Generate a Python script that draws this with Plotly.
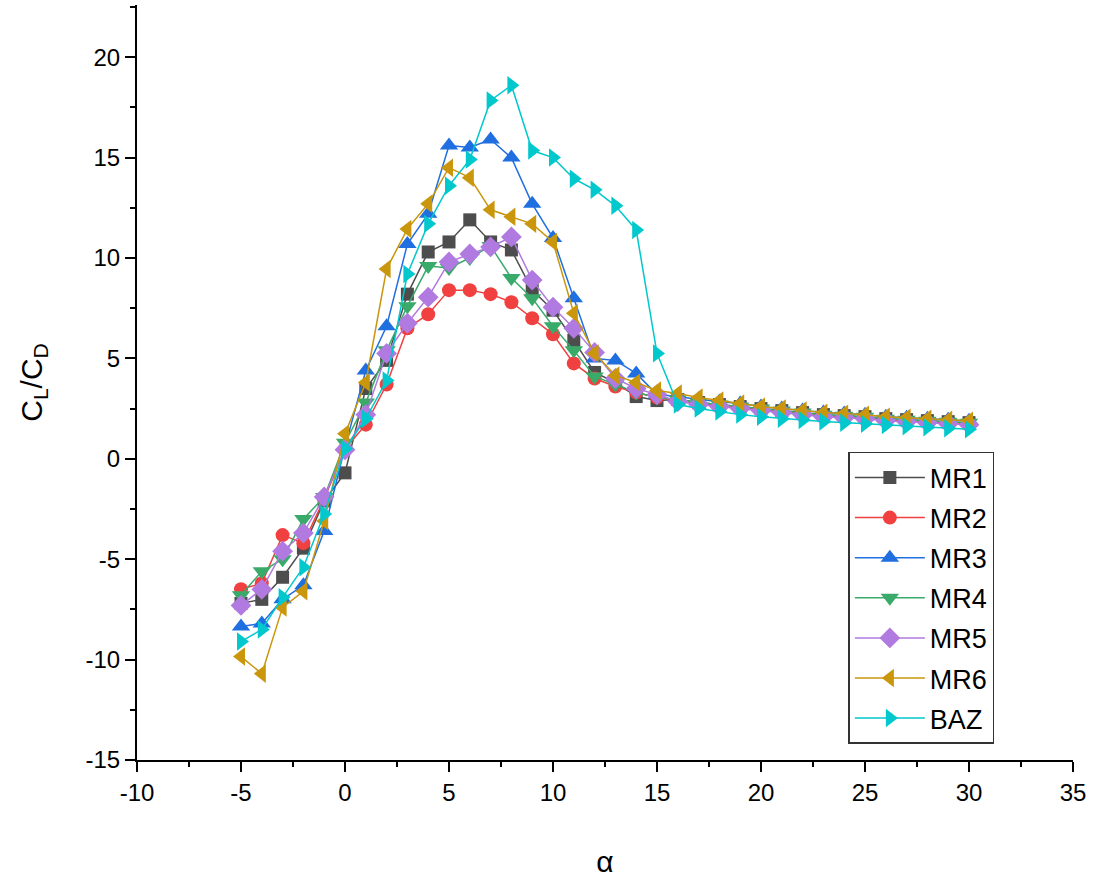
import plotly.graph_objects as go

alpha = list(range(-5, 31))

MR1 = [-7.2, -7.0, -5.9, -4.45, -2.1, -0.7, 3.5, 4.9, 8.2, 10.3, 10.8, 11.9, 10.8, 10.4, 8.4, 7.4, 5.9, 4.3, 3.8, 3.1, 2.9,
       2.95, 2.8, 2.7, 2.6, 2.5, 2.4, 2.3, 2.2, 2.15, 2.1, 2.0, 1.95, 1.9, 1.85, 1.8]
MR2 = [-6.5, -6.2, -3.8, -4.2, -2.0, 0.5, 1.7, 3.7, 6.5, 7.2, 8.4, 8.4, 8.2, 7.8, 7.0, 6.2, 4.75, 4.0, 3.6, 3.3, 3.05,
       2.9, 2.75, 2.65, 2.55, 2.45, 2.35, 2.25, 2.15, 2.1, 2.05, 1.95, 1.9, 1.85, 1.8, 1.75]
MR3 = [-8.35, -8.2, -7.0, -6.3, -3.6, 0.6, 4.4, 6.6, 10.7, 12.2, 15.6, 15.5, 15.9, 15.0, 12.7, 11.0, 8.0, 5.0, 4.9, 4.25, 3.2,
       3.1, 2.95, 2.85, 2.75, 2.6, 2.5, 2.4, 2.3, 2.25, 2.2, 2.1, 2.05, 2.0, 1.95, 1.9]
MR4 = [-6.8, -5.6, -5.0, -3.0, -1.9, 0.8, 2.8, 5.4, 7.6, 9.6, 9.5, 10.0, 10.6, 9.0, 8.0, 6.6, 5.4, 4.1, 3.7, 3.3, 3.05,
       2.95, 2.8, 2.7, 2.6, 2.5, 2.4, 2.3, 2.2, 2.15, 2.1, 2.0, 1.95, 1.9, 1.85, 1.8]
MR5 = [-7.3, -6.5, -4.6, -3.7, -1.9, 0.45, 2.2, 5.25, 6.75, 8.05, 9.8, 10.2, 10.55, 11.05, 8.9, 7.55, 6.5, 5.3, 4.0, 3.5, 3.2,
       2.85, 2.7, 2.6, 2.5, 2.4, 2.3, 2.2, 2.1, 2.05, 2.0, 1.9, 1.85, 1.8, 1.75, 1.7]
MR6 = [-9.85, -10.7, -7.4, -6.6, -3.1, 1.25, 3.8, 9.45, 11.45, 12.7, 14.5, 14.0, 12.4, 12.05, 11.7, 10.8, 7.25, 5.25, 4.15, 3.8, 3.4,
       3.25, 3.05, 2.9, 2.75, 2.6, 2.5, 2.4, 2.3, 2.25, 2.2, 2.1, 2.05, 2.0, 1.95, 1.9]
BAZ = [-9.1, -8.5, -6.9, -5.4, -2.75, 0.5, 2.0, 3.9, 9.2, 11.7, 13.6, 14.9, 17.85, 18.6, 15.35, 15.0, 13.95, 13.4, 12.6, 11.4, 5.25,
       2.7, 2.5, 2.35, 2.2, 2.1, 2.0, 1.93, 1.86, 1.8, 1.74, 1.68, 1.62, 1.57, 1.52, 1.47]

x_ticks = [-10, -5, 0, 5, 10, 15, 20, 25, 30, 35]
x_ticktext = ["-10", "-5", "0", "5", "10", "15", "20", "25", "30", "35"]
y_ticks = [-15, -10, -5, 0, 5, 10, 15, 20]
y_ticktext = ["-15", "-10", "-5", "0", "5", "10", "15", "20"]

series = [
    ("MR1", MR1, "#4d4d4d", "square", 13),
    ("MR2", MR2, "#f04040", "circle", 14),
    ("MR3", MR3, "#1f6fe0", "triangle-up", 16),
    ("MR4", MR4, "#3aaa6a", "triangle-down", 16),
    ("MR5", MR5, "#b07ae0", "diamond", 16),
    ("MR6", MR6, "#c9960c", "triangle-left", 16),
    ("BAZ", BAZ, "#00c8cc", "triangle-right", 16),
]

fig = go.Figure()
for name, ys, color, sym, size in series:
    fig.add_trace(go.Scatter(
        x=alpha, y=ys, name=name, mode="lines+markers", legendgroup=name,
        line=dict(color=color, width=1.5),
        marker=dict(symbol=sym, size=size, color=color, line=dict(width=0)),
    ))

FONT = "Arial, Liberation Sans, sans-serif"
axis_font = dict(family=FONT, size=24, color="black")

fig.update_layout(
    width=1102, height=888,
    margin=dict(l=137, r=29, t=5, b=128),
    paper_bgcolor="white", plot_bgcolor="white",
    font=axis_font,
    showlegend=True,
    legend=dict(
        x=0.76, y=0.408, xanchor="left", yanchor="top",
        bordercolor="#333333", borderwidth=1.5, bgcolor="white",
        font=dict(family=FONT, size=27, color="black"),
        itemwidth=70, tracegroupgap=2,
    ),
    xaxis=dict(
        range=[-10, 35], tickmode="array", tickvals=x_ticks, ticktext=x_ticktext,
        showgrid=False, zeroline=False,
        showline=True, linecolor="black", linewidth=2,
        ticks="outside", ticklen=10, tickwidth=2, tickcolor="black",
        minor=dict(dtick=2.5, tick0=-10, ticks="outside", ticklen=5, tickwidth=2, tickcolor="black", showgrid=False),
        tickfont=axis_font,
        title=dict(text="α", font=dict(family=FONT, size=30, color="black"), standoff=46),
    ),
    yaxis=dict(
        range=[-15, 22.6], tickmode="array", tickvals=y_ticks, ticktext=y_ticktext,
        showgrid=False, zeroline=False,
        showline=True, linecolor="black", linewidth=2,
        ticks="outside", ticklen=10, tickwidth=2, tickcolor="black",
        minor=dict(dtick=2.5, tick0=-15, ticks="outside", ticklen=5, tickwidth=2, tickcolor="black", showgrid=False),
        tickfont=axis_font,
        title=dict(text="C<sub>L</sub>/C<sub>D</sub>", font=dict(family=FONT, size=30, color="black"), standoff=34),
    ),
)

fig.write_html("out.html")
